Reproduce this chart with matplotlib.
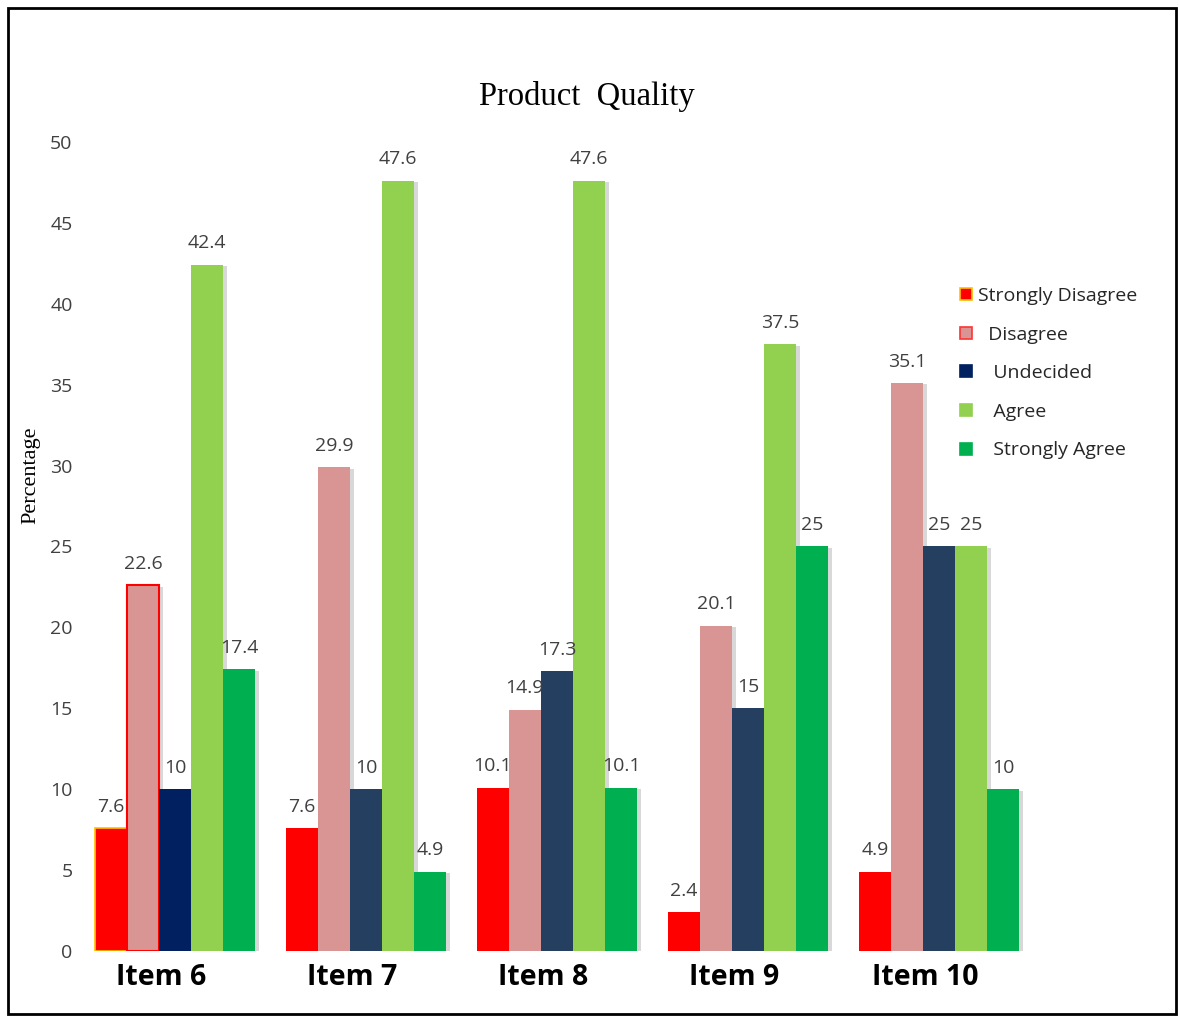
import numpy as np
import matplotlib
matplotlib.use('Agg')
from matplotlib import pyplot as plt
from matplotlib.lines import Line2D
from matplotlib.patches import Rectangle
import matplotlib.patheffects as pe

items = ['Item 6', 'Item 7', 'Item 8', 'Item 9', 'Item 10']
series = ['Strongly Disagree', 'Disagree', 'Undecided', 'Agree', 'Strongly Agree']
legend_labels = ['Strongly Disagree', '  Disagree', '   Undecided', '   Agree', '   Strongly Agree']

strongly_disagree = [7.6, 7.6, 10.1, 2.4, 4.9]
disagree = [22.6, 29.9, 14.9, 20.1, 35.1]
undecided = [10, 10, 17.3, 15, 25]
agree = [42.4, 47.6, 47.6, 37.5, 25]
strongly_agree = [17.4, 4.9, 10.1, 25, 10]
values = [strongly_disagree, disagree, undecided, agree, strongly_agree]

colors = ['#FF0000', '#D99594', '#243F60', '#92D050', '#00B050']
legend_colors = ['#FF0000', '#D99594', '#002060', '#92D050', '#00B050']
legend_edges = ['#FFC000', '#FF3333', '#002060', '#92D050', '#00B050']

fig = plt.figure(figsize=(11.79, 10.17), dpi=100)
ax = fig.add_axes([0.0674, 0.0649, 0.81, 0.7955])

x = np.arange(len(items))
w = 0.168
shadow = [pe.SimplePatchShadow(offset=(3, -1), shadow_rgbFace='#909090', alpha=0.35), pe.Normal()]

for i, (name, vals) in enumerate(zip(series, values)):
    pos = x + (i - 2) * w
    bars = ax.bar(pos, vals, width=w, color=colors[i], linewidth=0, label=name)
    for b in bars:
        b.set_path_effects(shadow)
    for p, v in zip(pos, vals):
        ax.annotate(f'{v:g}', (p, v), xytext=(0, 9), textcoords='offset points',
                    ha='center', va='bottom', fontsize=14, color='#404040',
                    family='Open Sans')

# item 6 styling tweaks seen in the original
bars_sd = ax.containers[0]
bars_sd[0].set_edgecolor('#FFC000')
bars_sd[0].set_linewidth(1.2)
bars_d = ax.containers[1]
bars_d[0].set_edgecolor('#FF0000')
bars_d[0].set_linewidth(1.5)
ax.containers[2][0].set_facecolor('#002060')

ax.set_xlim(-0.5, 4.5)
ax.set_ylim(0, 50)
ax.set_yticks(np.arange(0, 51, 5))
ax.tick_params(axis='y', length=0, pad=5, labelsize=14, labelcolor='#404040')
for t in ax.get_yticklabels():
    t.set_family('Open Sans')
ax.set_xticks(x - 0.07)
ax.set_xticklabels(items, fontsize=20.5, fontweight='bold', family='Open Sans')
ax.tick_params(axis='x', length=0, pad=9)
for s in ax.spines.values():
    s.set_visible(False)

fig.text(0.498, 0.905, 'Product  Quality', ha='center', va='center',
         fontsize=23.5, family='Liberation Serif')
fig.text(0.026, 0.533, 'Percentage', rotation=90, ha='center', va='center',
         fontsize=16, family='Liberation Serif')

handles = [Line2D([], [], marker='s', linestyle='none', markersize=9,
                  markerfacecolor=c, markeredgecolor=e, markeredgewidth=1.2)
           for c, e in zip(legend_colors, legend_edges)]
fig.legend(handles, legend_labels, loc='upper left', bbox_to_anchor=(0.797, 0.735),
           frameon=False, prop={'family': 'Open Sans', 'size': 14},
           labelspacing=1.06, handletextpad=0.1, handlelength=0.95,
           labelcolor='#262626')

fig.patches.append(Rectangle((0.0068, 0.0029), 0.9907, 0.9892, transform=fig.transFigure,
                             fill=False, edgecolor='black', linewidth=2))

fig.savefig('out.png', dpi=100)
